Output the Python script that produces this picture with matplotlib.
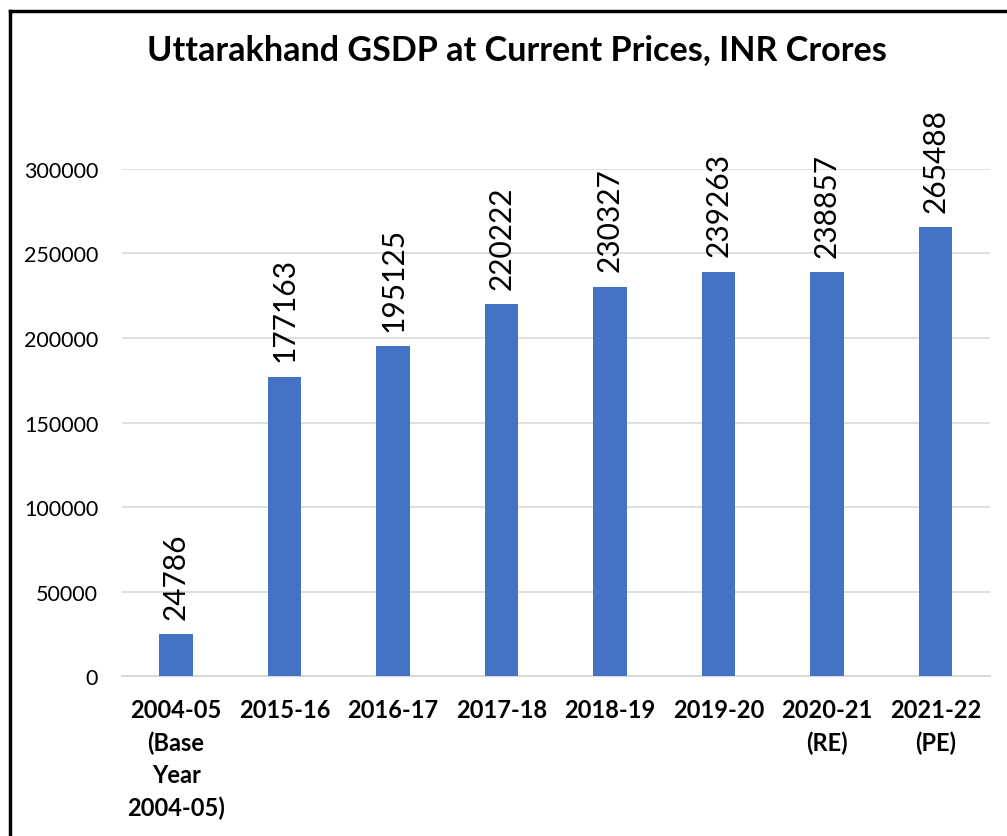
import matplotlib
matplotlib.use('Agg')
import matplotlib.pyplot as plt
from matplotlib.lines import Line2D

plt.rcParams['font.family'] = ['Lato', 'DejaVu Sans']

# data
years = ['2004-05\n(Base\nYear\n2004-05)', '2015-16', '2016-17', '2017-18',
         '2018-19', '2019-20', '2020-21\n(RE)', '2021-22\n(PE)']
gsdp = [24786, 177163, 195125, 220222, 230327, 239263, 238857, 265488]
yticks = [0, 50000, 100000, 150000, 200000, 250000, 300000]

fig = plt.figure(figsize=(10.07, 8.37), dpi=100)
ax = fig.add_axes([0.121, 0.191, 0.862, 0.606])

x = list(range(len(years)))
ax.bar(x, gsdp, width=0.31, color='#4472C4', zorder=3)
for xi, v in zip(x, gsdp):
    ax.annotate(str(v), (xi, v), xytext=(0, 11), textcoords='offset points',
                rotation=90, ha='center', va='bottom', fontsize=21.5,
                annotation_clip=False)

ax.set_xlim(-0.5, len(years) - 0.5)
ax.set_ylim(0, 300000)
ax.set_yticks(yticks)
ax.set_yticklabels([str(t) for t in yticks], fontsize=15.5)
ax.set_xticks(x)
ax.set_xticklabels(years, fontsize=17, fontweight='bold', linespacing=1.47, va='top')
ax.tick_params(axis='both', length=0)
ax.tick_params(axis='y', pad=17)
ax.tick_params(axis='x', pad=16)
ax.grid(axis='y', color='#D9D9D9', linewidth=1.2, zorder=0)
for s in ['top', 'right', 'left']:
    ax.spines[s].set_visible(False)
ax.spines['bottom'].set_color('#D9D9D9')
ax.spines['bottom'].set_linewidth(1.5)

fig.text(0.513, 0.94, 'Uttarakhand GSDP at Current Prices, INR Crores',
         ha='center', va='center', fontsize=24.6, fontweight='bold')

# chart border (runs off the right and bottom of the image)
fig.add_artist(Line2D([10 / 1007, 10 / 1007], [0, 1 - 12 / 837], transform=fig.transFigure,
                      color='black', linewidth=2.5))
fig.add_artist(Line2D([10 / 1007, 1], [1 - 12 / 837, 1 - 12 / 837], transform=fig.transFigure,
                      color='black', linewidth=2.5))

plt.savefig('out.png', dpi=100)
